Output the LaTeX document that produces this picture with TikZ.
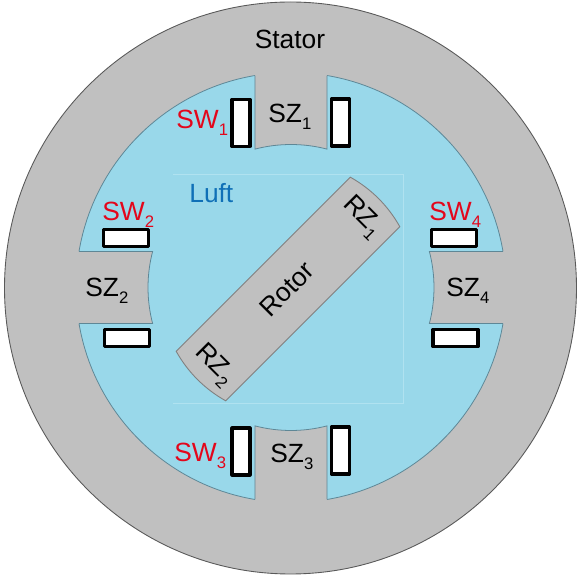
\documentclass[tikz,border=0pt]{standalone}
\usepackage{fontspec}
\setmainfont{Liberation Sans}
\definecolor{statorgray}{HTML}{C0C0C0}
\definecolor{luftblue}{HTML}{99D8EA}
\definecolor{edgegray}{HTML}{5E8796}
\definecolor{framecol}{HTML}{B0E2F0}
\definecolor{swred}{HTML}{E3061B}
\definecolor{luftcol}{HTML}{0F70B7}
\newcommand{\subz}[1]{\raisebox{-0.5ex}{\fontsize{9.5}{10}\selectfont #1}}
\begin{document}
\begin{tikzpicture}[
    x=0.02cm,y=0.02cm,
    slotv/.style={
        draw=black,
        fill=white,
        line width=1.8pt,
        line join=round,
        minimum width=0.36cm,
        minimum height=0.94cm,
        inner sep=0pt
    },
    sloth/.style={
        draw=black,
        fill=white,
        line width=1.8pt,
        line join=round,
        minimum width=0.90cm,
        minimum height=0.34cm,
        inner sep=0pt
    },
    mylabel/.style={
        anchor=base west,
        inner sep=0pt,
        font=\fontsize{15}{17}\selectfont,
        text=black
    },
    swlabel/.style={mylabel, text=swred},
    rzlabel/.style={
        inner sep=0pt,
        font=\fontsize{15}{17}\selectfont,
        text=black
    },
    myedge/.style={draw=edgegray, line width=0.45pt}
]
\useasboundingbox (0,0) rectangle (583,582);

% stator and air gap
\fill[statorgray, draw=gray!70!black, line width=0.5pt] (290.5,294) circle (286);
\fill[luftblue] (291,294.5) circle (215);
\draw[myedge] (291,294.5) circle (215);
\draw[framecol, line width=0.5pt] (173,408) -- (403,408) -- (403,179) -- (173,179);

% stator teeth
\begin{scope}[shift={(291,294.5)}]
\foreach \a in {0,90,180,270} {
    \fill[statorgray, rotate=\a] (14.58:143) arc (14.58:-14.58:143)
        -- (-9.6:217) arc (-9.6:9.6:217) -- cycle;
    \draw[myedge, rotate=\a] (9.64:215) -- (14.58:143) arc (14.58:-14.58:143)
        -- (-9.64:215);
}
\end{scope}

% rotor
\begin{scope}[shift={(288,293)}]
\filldraw[statorgray, draw=gray, line width=0.5pt]
    (29.1:128) arc (29.1:60.9:128) -- (209.1:128) arc (209.1:240.9:128) -- cycle;
\end{scope}

% windings
\node[slotv] (swa) at (241,459) {};
\node[slotv] (swb) at (340.5,459.5) {};
\node[sloth] (swc) at (126,344) {};
\node[sloth] (swd) at (127,244) {};
\node[slotv] (swe) at (241,130.5) {};
\node[slotv] (swf) at (340.5,131.5) {};
\node[sloth] (swg) at (454,344) {};
\node[sloth] (swh) at (455.5,244) {};

% labels
\node[mylabel, anchor=base] (stator) at (290,533) {Stator};
\node[mylabel, text=luftcol] (luft) at (189,379) {Luft};
\node[mylabel] (sz1) at (268,459) {SZ\subz{1}};
\node[mylabel] (sz2) at (85,285) {SZ\subz{2}};
\node[mylabel] (sz3) at (270,119) {SZ\subz{3}};
\node[mylabel] (sz4) at (446,285) {SZ\subz{4}};
\node[swlabel] (sw1) at (176,453) {SW\subz{1}};
\node[swlabel] (sw2) at (102,361) {SW\subz{2}};
\node[swlabel] (sw3) at (174,120) {SW\subz{3}};
\node[swlabel] (sw4) at (429,361) {SW\subz{4}};
\node[rzlabel, rotate=45] (rotor) at (287,293) {Rotor};
\node[rzlabel, rotate=-45] (rz1) at (362,365) {RZ\subz{1}};
\node[rzlabel, rotate=-45] (rz2) at (214,217) {RZ\subz{2}};
\end{tikzpicture}
\end{document}
